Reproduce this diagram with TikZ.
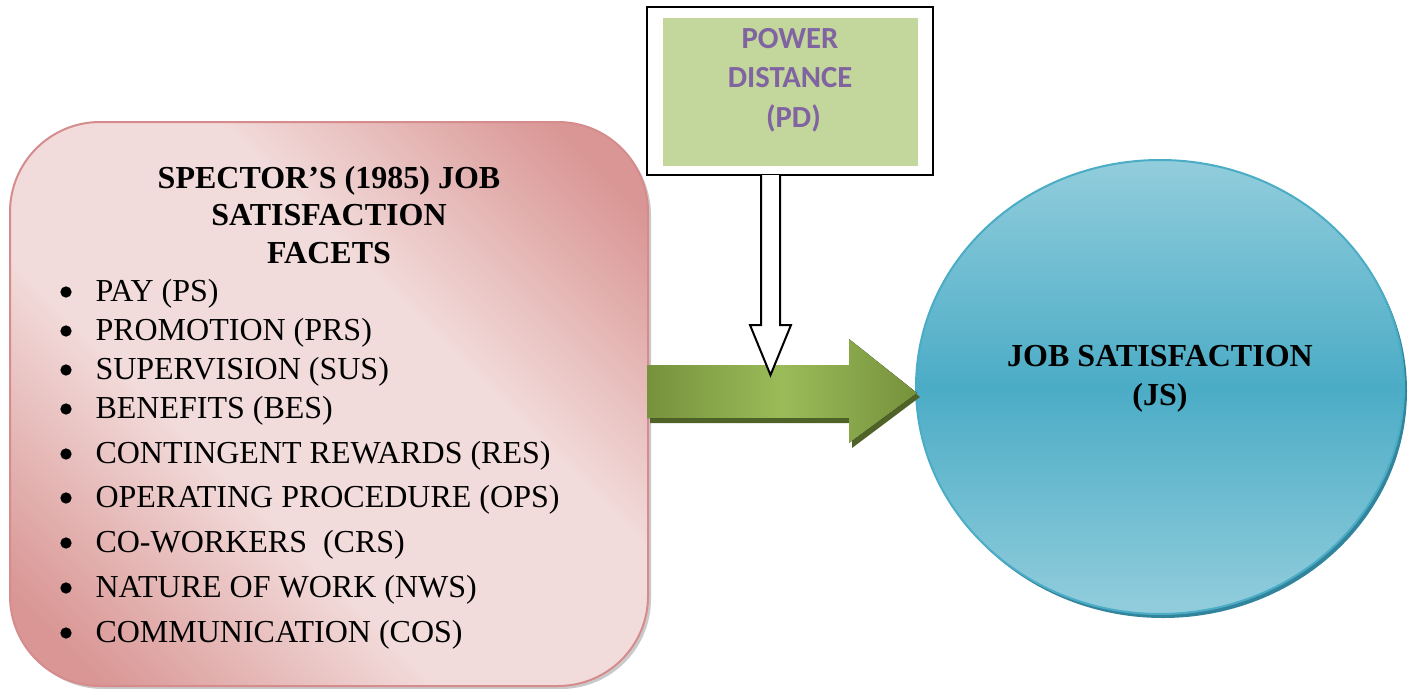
\documentclass[tikz,border=0pt]{standalone}
\usepackage{fontspec}
\setmainfont{Liberation Serif}
\newfontfamily\pdfont{Carlito}

\definecolor{pinkdark}{RGB}{217,150,148}
\definecolor{pinklight}{RGB}{242,220,219}
\definecolor{pinkedge}{RGB}{214,140,140}
\definecolor{greendark}{RGB}{118,146,60}
\definecolor{greenlight}{RGB}{155,187,89}
\definecolor{greenshade}{RGB}{79,98,40}
\definecolor{pdgreen}{RGB}{195,214,155}
\definecolor{pdpurple}{RGB}{128,100,162}
\definecolor{bluelight}{RGB}{146,205,220}
\definecolor{bluedark}{RGB}{75,172,198}
\definecolor{blueshade}{RGB}{49,132,155}

\pgfdeclareverticalshading{pinkdiag}{100bp}{color(0bp)=(pinkdark); color(20bp)=(pinkdark); color(40bp)=(pinklight); color(60bp)=(pinklight); color(80bp)=(pinkdark); color(100bp)=(pinkdark)}

\tikzset{every picture/.style={line width=0.75pt},
  itemtext/.style={anchor=base west,inner sep=0pt,font=\fontsize{24}{29}\selectfont},
  bulletdot/.style={circle,fill=black,inner sep=0pt,minimum size=8.5pt},
  headtext/.style={align=center,inner sep=0pt,font=\bfseries\fontsize{24}{28}\selectfont}}

\begin{document}
\begin{tikzpicture}[x=0.75pt,y=0.75pt,yscale=-1,xscale=1]
	\useasboundingbox (0,0) rectangle (1414,689);

	%Shape: Rounded Rect (shadow)
	\fill [black!35, opacity=0.6, rounded corners=67.5pt] (13,125) rectangle (651,689);
	%Shape: Rounded Rect
	\draw [pinkedge, line width=1.5, rounded corners=67.5pt, shading=pinkdiag, shading angle=-45] (10,122) rectangle (648,686);

	%Shape: Ellipse (shadow)
	\fill [blueshade] (1163,391) ellipse (244 and 227);
	%Shape: Ellipse
	\draw [bluedark, line width=1.5, top color=bluelight, bottom color=bluelight, middle color=bluedark] (1160,387) ellipse (244 and 227);

	%Shape: Right Arrow (shadow)
	\fill [greenshade] (650,370) -- (852,370) -- (852,344) -- (920,397) -- (852,448) -- (852,423) -- (650,423) -- cycle ;
	%Shape: Right Arrow
	\fill [left color=greendark, right color=greendark, middle color=greenlight] (647,365) -- (849,365) -- (849,339) -- (917,393) -- (849,443) -- (849,418) -- (647,418) -- cycle ;

	%Shape: Rectangle
	\draw [line width=1.5, fill=white] (647,7) rectangle (933,175);
	%Shape: Rectangle
	\fill [pdgreen] (663,18) rectangle (918,166);

	%Shape: Down Arrow
	\draw [line width=1.5, fill=white, line join=miter] (761,175) -- (761,325) -- (750,325) -- (770.5,375) -- (791,325) -- (780,325) -- (780,175) ;

	% Text Node
	\node (pd) [align=center, inner sep=0pt, text=pdpurple, font=\pdfont\bfseries\fontsize{23}{29.5}\selectfont] at (790,80) {POWER\\DISTANCE\\~(PD)};
	% Text Node
	\node (facets) [headtext] at (329,215) {SPECTOR’S (1985) JOB\\SATISFACTION\\FACETS};
	% Text Node
	\node (js) [headtext, font=\bfseries\fontsize{24}{29}\selectfont] at (1160,379) {JOB SATISFACTION\\(JS)};

	% Text Nodes
	\foreach \y/\txt [count=\i] in {291/PAY (PS), 330/PROMOTION (PRS), 369/SUPERVISION (SUS), 408/BENEFITS (BES), 453/CONTINGENT REWARDS (RES), 497/OPERATING PROCEDURE (OPS), 542/CO-WORKERS\ \ (CRS), 587/NATURE OF WORK (NWS), 632/COMMUNICATION (COS)} {
		\node (dot\i) [bulletdot] at (66,\y+1) {};
		\node (item\i) [itemtext] at (95,\y+10) {\txt};
	}

\end{tikzpicture}
\end{document}
